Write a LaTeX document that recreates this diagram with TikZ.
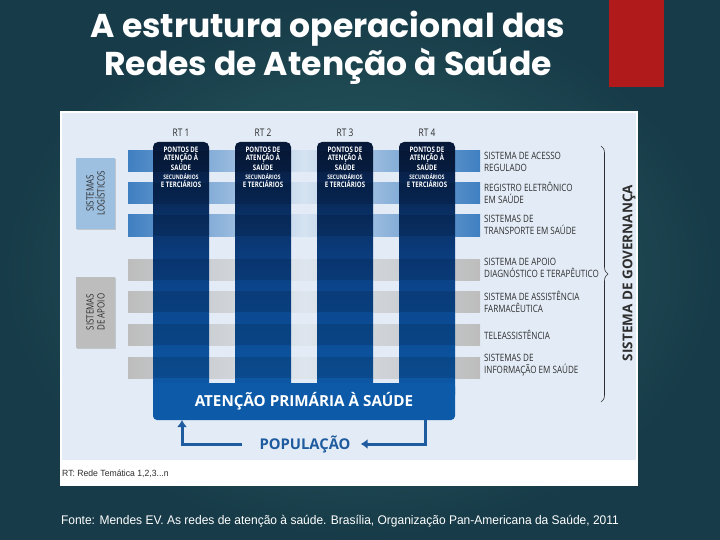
\documentclass[tikz,border=0pt]{standalone}
\usepackage{fontspec}
\setmainfont{Open Sans}
\newfontfamily\titlefont{Poppins}
\newfontfamily\condfont[FakeStretch=0.8]{Open Sans}
\newfontfamily\notefont[FakeStretch=0.96]{Liberation Sans}
\usetikzlibrary{arrows.meta,decorations.pathreplacing,shadows}
\definecolor{bgdark}{HTML}{173B48}
\definecolor{bglight}{HTML}{2C6367}
\definecolor{slidered}{HTML}{B11A1A}
\definecolor{panel}{HTML}{E3ECF6}
\definecolor{navy}{HTML}{071838}
\definecolor{midblue}{HTML}{0B4186}
\definecolor{apsblue}{HTML}{0C5AA8}
\definecolor{logblue}{HTML}{3F7FC1}
\definecolor{logfill}{HTML}{9DBFE0}
\definecolor{supgray}{HTML}{BDBDBD}
\definecolor{popblue}{HTML}{1F5B9F}
\definecolor{darktext}{HTML}{2E2E2E}
\tikzset{
  slidetitle/.style = {text=white, align=center, inner sep=0pt,
                       font=\titlefont\bfseries\fontsize{33}{38}\selectfont},
  rtcol/.style      = {top color=navy, bottom color=apsblue, middle color=midblue},
  logbar/.style     = {left color=logblue, right color=logblue, middle color=panel!92!logblue},
  supbar/.style     = {left color=supgray, right color=supgray, middle color=panel!85!supgray},
  sidebox/.style    = {rotate=90, minimum width=71pt, minimum height=39pt, inner sep=0pt,
                       align=center, text=darktext, drop shadow={opacity=.35, shadow xshift=1.2pt, shadow yshift=-1.2pt},
                       font=\condfont\fontsize{10}{11}\selectfont},
  rtlabel/.style    = {text=darktext, inner sep=0pt, font=\condfont\fontsize{10.5}{12}\selectfont},
  rttext/.style     = {text=white, align=center, inner sep=0pt,
                       font=\condfont\bfseries\fontsize{7.6}{8.6}\selectfont},
  syslabel/.style   = {anchor=west, align=left, inner sep=0pt, text=darktext,
                       font=\condfont\fontsize{10.1}{12}\selectfont},
  apsbox/.style     = {fill=apsblue, rounded corners=4pt, minimum width=302pt, minimum height=37pt,
                       text=white, font=\bfseries\fontsize{15.2}{17}\selectfont},
  poplabel/.style   = {text=popblue, inner sep=0pt, font=\bfseries\fontsize{14.8}{16}\selectfont},
  poparrow/.style   = {popblue, line width=3pt, -{Latex[length=7pt,width=10pt]}},
  govbrace/.style   = {darktext, line width=.6pt, decorate, decoration={brace,amplitude=7pt}},
  note/.style       = {inner sep=0pt, text=darktext, font=\notefont\fontsize{9}{10}\selectfont},
}
\begin{document}
\begin{tikzpicture}[x=1pt, y=-1pt]
  \useasboundingbox (0,0) rectangle (720,540);
  % slide
  \shade[inner color=bglight, outer color=bgdark] (0,0) rectangle (720,540);
  \fill[slidered] (609,0) rectangle (664,87);
  \node[slidetitle] (title) at (328,48) {A estrutura operacional das\\Redes de Atenção à Saúde};
  % figure
  \fill[white] (60,111) rectangle (638,486);
  \fill[panel] (62,113) rectangle (636,460);
  \node[note, anchor=west] (legend) at (62,474) {RT: Rede Temática 1,2,3...n};
  \node[sidebox, fill=logfill] (logbox) at (95.5,193.5) {SISTEMAS\\LOGÍSTICOS};
  \node[sidebox, fill=supgray] (supbox) at (95.5,312) {SISTEMAS\\DE APOIO};
  \foreach \y in {151,183,215}
    \path[logbar] (128,\y) rectangle ++(352,21);
  \foreach \y in {259,291,324,357}
    \path[supbar] (128,\y) rectangle ++(352,21);
  \foreach \i in {1,...,4} {
    \pgfmathsetmacro\x{153+82*(\i-1)}
    \path[rtcol, rounded corners=5pt] (\x,142) rectangle ++(56,258);
  }
  \node[apsbox] (aps) at (304,401.5) {ATENÇÃO PRIMÁRIA À SAÚDE};
  \foreach \i in {1,...,4}
    \foreach \y in {151,183,215,259,291,324,357}
      \fill[black, opacity=.13] (71+82*\i,\y) rectangle ++(56,21);
  \foreach \i in {1,...,4} {
    \pgfmathsetmacro\x{181+82*(\i-1)}
    \node[rtlabel] (rt\i) at (\x,133) {RT \i};
    \node[rttext, anchor=north] (pts\i) at (\x,146.5) {PONTOS DE\\ATENÇÃO À\\SAÚDE\\{\fontsize{6.2}{8.6}\selectfont SECUNDÁRIOS}\\E TERCIÁRIOS};
  }
  % systems on the right
  \foreach \y/\t [count=\k] in {161.5/{SISTEMA DE ACESSO\\REGULADO},
                                193/{REGISTRO ELETRÔNICO\\EM SAÚDE},
                                225/{SISTEMAS DE\\TRANSPORTE EM SAÚDE},
                                268/{SISTEMA DE APOIO\\DIAGNÓSTICO E TERAPÊUTICO},
                                302/{SISTEMA DE ASSISTÊNCIA\\FARMACÊUTICA},
                                334.5/{TELEASSISTÊNCIA},
                                365.5/{SISTEMAS DE\\INFORMAÇÃO EM SAÚDE}}
    \node[syslabel] (sys\k) at (484,\y) {\t};
  \coordinate (govtop) at (601,146);
  \coordinate (govbot) at (601,402);
  \draw[govbrace] (govtop) -- (govbot);
  \node[rotate=90, text=darktext, font=\bfseries\fontsize{13.5}{16}\selectfont] (gov) at (629,273) {SISTEMA DE GOVERNANÇA};
  % population loop
  \node[poplabel] (pop) at (305,444) {POPULAÇÃO};
  \coordinate (upL) at (182,420);
  \coordinate (downR) at (425,420);
  \draw[poparrow, shorten <=17pt] (pop.west) -| (upL);
  \draw[poparrow, shorten >=10pt] (downR) |- (pop.east);
  \node[text=white, inner sep=0pt, font=\notefont\fontsize{12.5}{14}\selectfont] (source) at (340,521)
    {Fonte: Mendes EV. As redes de atenção à saúde. Brasília, Organização Pan-Americana da Saúde, 2011};
\end{tikzpicture}
\end{document}
